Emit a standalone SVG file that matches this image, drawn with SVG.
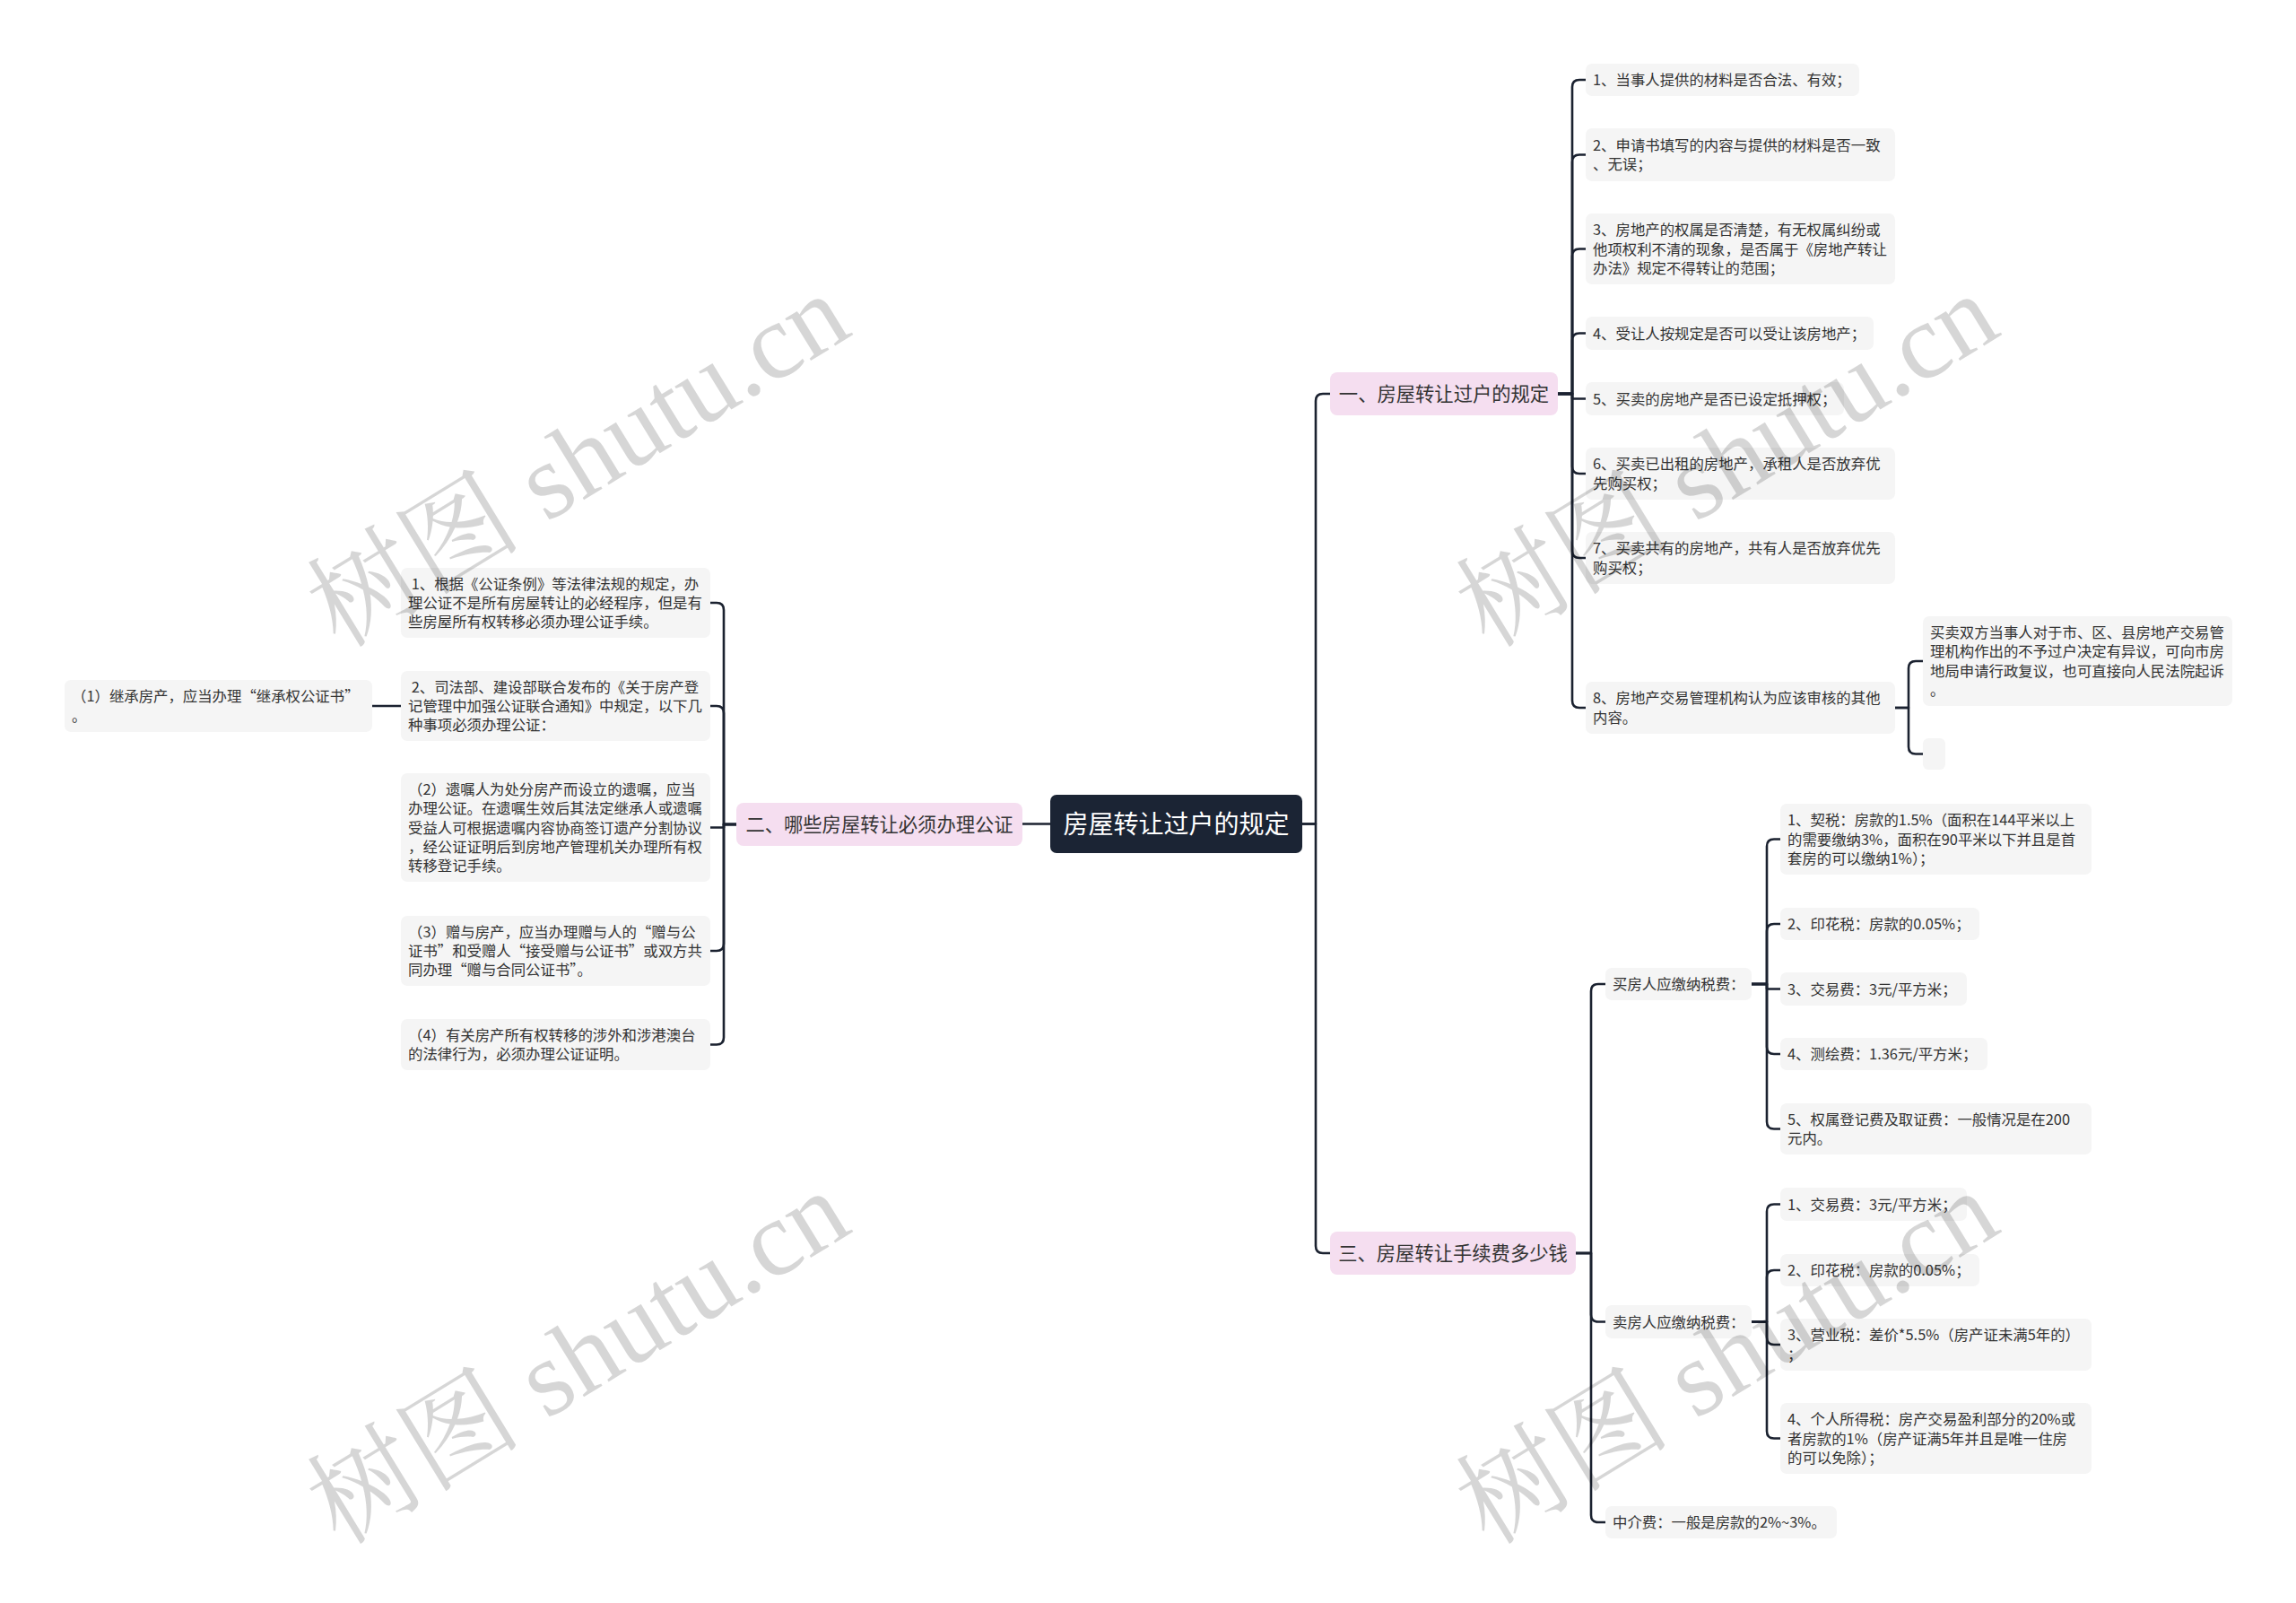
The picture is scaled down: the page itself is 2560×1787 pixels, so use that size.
<svg xmlns="http://www.w3.org/2000/svg" width="2560" height="1787" viewBox="0 0 2560 1787">
<style>
.n rect{fill:#f5f5f5}
.n text{font-family:"Noto Sans CJK SC","Noto Sans",sans-serif;font-size:16.4px;fill:#333}
.b rect{fill:#f5def0}
.b text{font-family:"Noto Sans CJK SC","Noto Sans",sans-serif;font-size:21.3px;fill:#333;text-anchor:middle}
.r rect{fill:#1b2434}
.r text{font-family:"Noto Sans CJK SC","Noto Sans",sans-serif;font-size:28px;fill:#fff;text-anchor:middle}
.c path{fill:none;stroke:#1b2230;stroke-width:2.6;stroke-linecap:round;stroke-linejoin:round}
.wm text{font-family:"Liberation Serif","Noto Serif CJK SC","Noto Sans CJK SC",serif;font-size:120px;fill:#000;fill-opacity:0.16;text-anchor:middle}
</style>
<rect width="2560" height="1787" fill="#fff"/>
<g class="c" id="connectors">
<path d="M1452 918.5 H1467 V447 Q1467 439 1475 439 H1483"/>
<path d="M1452 918.5 H1467 V1389 Q1467 1397 1475 1397 H1483"/>
<path d="M1171 918.5 H1140"/>
<path d="M821 919 H807 V680 Q807 672 799 672 H792"/>
<path d="M821 919 H807 V795 Q807 787 799 787 H792"/>
<path d="M821 919 H807 V922.5 H792"/>
<path d="M821 919 H807 V1052 Q807 1060 799 1060 H792"/>
<path d="M821 919 H807 V1156.5 Q807 1164.5 799 1164.5 H792"/>
<path d="M447 787 H415"/>
<path d="M1737 439 H1753 V97 Q1753 89 1761 89 H1768"/>
<path d="M1737 439 H1753 V180.5 Q1753 172.5 1761 172.5 H1768"/>
<path d="M1737 439 H1753 V285.5 Q1753 277.5 1761 277.5 H1768"/>
<path d="M1737 439 H1753 V379.5 Q1753 371.5 1761 371.5 H1768"/>
<path d="M1737 439 H1753 V444.5 H1768"/>
<path d="M1737 439 H1753 V520 Q1753 528 1761 528 H1768"/>
<path d="M1737 439 H1753 V614 Q1753 622 1761 622 H1768"/>
<path d="M1737 439 H1753 V781 Q1753 789 1761 789 H1768"/>
<path d="M2113 789 H2128 V745 Q2128 737 2136 737 H2144"/>
<path d="M2113 789 H2128 V832.5 Q2128 840.5 2136 840.5 H2144"/>
<path d="M1757 1397 H1774 V1105 Q1774 1097 1782 1097 H1790"/>
<path d="M1757 1397 H1774 V1465.5 Q1774 1473.5 1782 1473.5 H1790"/>
<path d="M1757 1397 H1774 V1689 Q1774 1697 1782 1697 H1790"/>
<path d="M1953 1097 H1970 V943.5 Q1970 935.5 1978 935.5 H1985"/>
<path d="M1953 1097 H1970 V1038 Q1970 1030 1978 1030 H1985"/>
<path d="M1953 1097 H1970 V1102.5 H1985"/>
<path d="M1953 1097 H1970 V1167 Q1970 1175 1978 1175 H1985"/>
<path d="M1953 1097 H1970 V1250.5 Q1970 1258.5 1978 1258.5 H1985"/>
<path d="M1953 1473.5 H1970 V1350.5 Q1970 1342.5 1978 1342.5 H1985"/>
<path d="M1953 1473.5 H1970 V1424 Q1970 1416 1978 1416 H1985"/>
<path d="M1953 1473.5 H1970 V1491 Q1970 1499 1978 1499 H1985"/>
<path d="M1953 1473.5 H1970 V1595.5 Q1970 1603.5 1978 1603.5 H1985"/>
</g>
<g class="r" id="root"><rect x="1171" y="886" width="281" height="65" rx="7"/><text x="1311.5" y="929">房屋转让过户的规定</text></g>
<g class="b" id="b1"><rect x="1483" y="415" width="254" height="48" rx="8"/><text x="1610" y="447">一、房屋转让过户的规定</text></g>
<g class="b" id="b2"><rect x="821" y="895" width="319" height="48" rx="8"/><text x="980.5" y="927">二、哪些房屋转让必须办理公证</text></g>
<g class="b" id="b3"><rect x="1483" y="1373" width="274" height="48" rx="8"/><text x="1620" y="1405">三、房屋转让手续费多少钱</text></g>

<g class="n" id="l1"><rect x="447" y="633" width="345" height="78" rx="7"/><text x="455" y="656.7" xml:space="preserve"> 1、根据《公证条例》等法律法规的规定，办</text><text x="455" y="678">理公证不是所有房屋转让的必经程序，但是有</text><text x="455" y="699.3">些房屋所有权转移必须办理公证手续。</text></g>
<g class="n" id="l2"><rect x="447" y="748" width="345" height="78" rx="7"/><text x="455" y="771.7" xml:space="preserve"> 2、司法部、建设部联合发布的《关于房产登</text><text x="455" y="793">记管理中加强公证联合通知》中规定，以下几</text><text x="455" y="814.3">种事项必须办理公证：</text></g>
<g class="n" id="l2a"><rect x="72" y="758" width="343" height="58" rx="7"/><text x="80" y="782.4">（1）继承房产，应当办理“继承权公证书”</text><text x="80" y="803.7">。</text></g>
<g class="n" id="l3"><rect x="447" y="862" width="345" height="121" rx="7"/><text x="455" y="885.9">（2）遗嘱人为处分房产而设立的遗嘱，应当</text><text x="455" y="907.2">办理公证。在遗嘱生效后其法定继承人或遗嘱</text><text x="455" y="928.5">受益人可根据遗嘱内容协商签订遗产分割协议</text><text x="455" y="949.8">，经公证证明后到房地产管理机关办理所有权</text><text x="455" y="971.1">转移登记手续。</text></g>
<g class="n" id="l4"><rect x="447" y="1021" width="345" height="78" rx="7"/><text x="455" y="1044.7">（3）赠与房产，应当办理赠与人的“赠与公</text><text x="455" y="1066">证书”和受赠人“接受赠与公证书”或双方共</text><text x="455" y="1087.3">同办理“赠与合同公证书”。</text></g>
<g class="n" id="l5"><rect x="447" y="1136" width="345" height="57" rx="7"/><text x="455" y="1159.9">（4）有关房产所有权转移的涉外和涉港澳台</text><text x="455" y="1181.2">的法律行为，必须办理公证证明。</text></g>

<g class="n" id="r1"><rect x="1768" y="71" width="305" height="36" rx="7"/><text x="1776" y="95">1、当事人提供的材料是否合法、有效；</text></g>
<g class="n" id="r2"><rect x="1768" y="143" width="345" height="59" rx="7"/><text x="1776" y="167.9">2、申请书填写的内容与提供的材料是否一致</text><text x="1776" y="189.2">、无误；</text></g>
<g class="n" id="r3"><rect x="1768" y="238" width="345" height="79" rx="7"/><text x="1776" y="262.2">3、房地产的权属是否清楚，有无权属纠纷或</text><text x="1776" y="283.5">他项权利不清的现象，是否属于《房地产转让</text><text x="1776" y="304.8">办法》规定不得转让的范围；</text></g>
<g class="n" id="r4"><rect x="1768" y="353" width="321" height="37" rx="7"/><text x="1776" y="377.5">4、受让人按规定是否可以受让该房地产；</text></g>
<g class="n" id="r5"><rect x="1768" y="426" width="288" height="37" rx="7"/><text x="1776" y="450.5">5、买卖的房地产是否已设定抵押权；</text></g>
<g class="n" id="r6"><rect x="1768" y="499" width="345" height="58" rx="7"/><text x="1776" y="523.4">6、买卖已出租的房地产，承租人是否放弃优</text><text x="1776" y="544.7">先购买权；</text></g>
<g class="n" id="r7"><rect x="1768" y="593" width="345" height="58" rx="7"/><text x="1776" y="617.4">7、买卖共有的房地产，共有人是否放弃优先</text><text x="1776" y="638.7">购买权；</text></g>
<g class="n" id="r8"><rect x="1768" y="760" width="345" height="58" rx="7"/><text x="1776" y="784.4">8、房地产交易管理机构认为应该审核的其他</text><text x="1776" y="805.7">内容。</text></g>
<g class="n" id="r8a"><rect x="2144" y="687" width="345" height="100" rx="7"/><text x="2152" y="711.1">买卖双方当事人对于市、区、县房地产交易管</text><text x="2152" y="732.4">理机构作出的不予过户决定有异议，可向市房</text><text x="2152" y="753.7">地局申请行政复议，也可直接向人民法院起诉</text><text x="2152" y="775">。</text></g>
<g class="n" id="r8b"><rect x="2144" y="823" width="25" height="35" rx="6"/></g>

<g class="n" id="buyer"><rect x="1790" y="1079" width="163" height="36" rx="7"/><text x="1798" y="1103">买房人应缴纳税费：</text></g>
<g class="n" id="c1"><rect x="1985" y="896" width="347" height="79" rx="7"/><text x="1993" y="920.2">1、契税：房款的1.5%（面积在144平米以上</text><text x="1993" y="941.5">的需要缴纳3%，面积在90平米以下并且是首</text><text x="1993" y="962.8">套房的可以缴纳1%）；</text></g>
<g class="n" id="c2"><rect x="1985" y="1012" width="222" height="36" rx="7"/><text x="1993" y="1036">2、印花税：房款的0.05%；</text></g>
<g class="n" id="c3"><rect x="1985" y="1084" width="208" height="37" rx="7"/><text x="1993" y="1108.5">3、交易费：3元/平方米；</text></g>
<g class="n" id="c4"><rect x="1985" y="1157" width="231" height="36" rx="7"/><text x="1993" y="1181">4、测绘费：1.36元/平方米；</text></g>
<g class="n" id="c5"><rect x="1985" y="1230" width="347" height="57" rx="7"/><text x="1993" y="1253.9">5、权属登记费及取证费：一般情况是在200</text><text x="1993" y="1275.2">元内。</text></g>
<g class="n" id="seller"><rect x="1790" y="1455" width="163" height="37" rx="7"/><text x="1798" y="1479.5">卖房人应缴纳税费：</text></g>
<g class="n" id="d1"><rect x="1985" y="1324" width="208" height="37" rx="7"/><text x="1993" y="1348.5">1、交易费：3元/平方米；</text></g>
<g class="n" id="d2"><rect x="1985" y="1398" width="222" height="36" rx="7"/><text x="1993" y="1422">2、印花税：房款的0.05%；</text></g>
<g class="n" id="d3"><rect x="1985" y="1470" width="347" height="58" rx="7"/><text x="1993" y="1494.4">3、营业税：差价*5.5%（房产证未满5年的）</text><text x="1993" y="1515.7">；</text></g>
<g class="n" id="d4"><rect x="1985" y="1564" width="347" height="79" rx="7"/><text x="1993" y="1588.2">4、个人所得税：房产交易盈利部分的20%或</text><text x="1993" y="1609.5">者房款的1%（房产证满5年并且是唯一住房</text><text x="1993" y="1630.8">的可以免除）；</text></g>
<g class="n" id="agent"><rect x="1790" y="1679" width="258" height="36" rx="7"/><text x="1798" y="1703">中介费：一般是房款的2%~3%。</text></g>

<g class="wm" id="watermarks">
<text transform="translate(645,514) rotate(-31.5)" y="40">树图 shutu.cn</text>
<text transform="translate(645,1514) rotate(-31.5)" y="40">树图 shutu.cn</text>
<text transform="translate(1926,514) rotate(-31.5)" y="40">树图 shutu.cn</text>
<text transform="translate(1926,1514) rotate(-31.5)" y="40">树图 shutu.cn</text>
</g>
</svg>
